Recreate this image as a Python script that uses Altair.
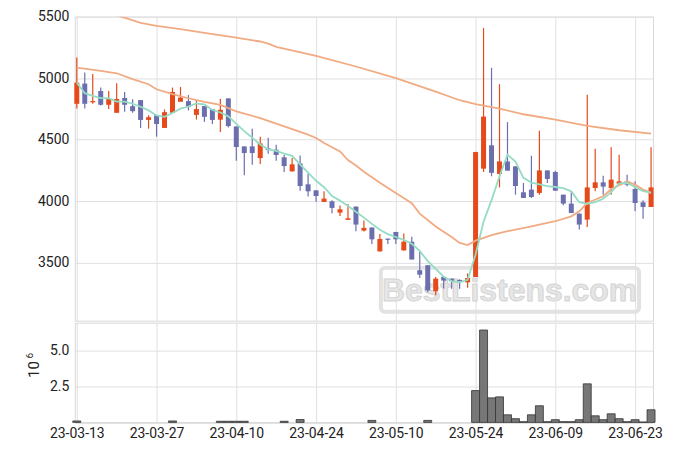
import altair as alt
import pandas as pd

# ---------------- data ----------------
holidays = ["2023-05-01", "2023-05-05", "2023-05-29", "2023-06-06"]
dates = pd.bdate_range("2023-03-13", "2023-06-27", freq="C", holidays=holidays)
date_labels = [d.strftime("%y-%m-%d") for d in dates]

opens = [4792, 4956, 4806, 4896, 4784, 4719, 4839, 4773, 4822, 4661,
         4699, 4596, 4719, 4809, 4814, 4702, 4773, 4749, 4663, 4836,
         4608, 4446, 4446, 4351, 4430, 4419, 4357, 4243, 4308, 4138,
         4089, 3995, 4000, 3908, 3849, 3957, 3762, 3787, 3593, 3697,
         3751, 3601, 3672, 3440, 3481, 3270, 3386, 3372, 3361, 3342,
         3385, 4265, 4455, 4222, 4324, 4284, 4073, 4095, 4068, 4251,
         4238, 4054, 3981, 3900, 3851, 4108, 4154, 4108, 4143, 4162,
         4100, 3992, 3954]
highs = [5169, 5046, 5033, 4924, 4896, 4959, 4888, 4828, 4822, 4699,
         4699, 4746, 4924, 4929, 4863, 4820, 4773, 4749, 4830, 4836,
         4608, 4446, 4589, 4524, 4516, 4459, 4378, 4351, 4373, 4224,
         4089, 4081, 4008, 3965, 3978, 3957, 3844, 3787, 3735, 3697,
         3751, 3738, 3713, 3590, 3481, 3385, 3386, 3372, 3366, 3413,
         4402, 5407, 5085, 4951, 4643, 4284, 4149, 4370, 4573, 4251,
         4249, 4054, 4081, 3900, 4865, 4427, 4208, 4438, 4378, 4216,
         4162, 4008, 4438]
lows = [4754, 4754, 4792, 4779, 4749, 4719, 4727, 4719, 4596, 4590,
        4525, 4596, 4719, 4809, 4738, 4664, 4645, 4628, 4563, 4600,
        4330, 4211, 4297, 4303, 4386, 4330, 4238, 4243, 4086, 4038,
        3997, 3995, 3903, 3881, 3849, 3757, 3754, 3653, 3593, 3653,
        3653, 3601, 3527, 3377, 3262, 3237, 3291, 3290, 3290, 3298,
        3385, 4238, 4203, 4113, 4249, 4054, 4027, 4027, 4054, 4149,
        4086, 3968, 3905, 3770, 3792, 4081, 4054, 4054, 4135, 4122,
        3919, 3859, 3954]
closes = [4964, 4792, 4814, 4784, 4831, 4831, 4784, 4732, 4661, 4683,
          4628, 4724, 4888, 4842, 4768, 4749, 4686, 4661, 4743, 4611,
          4441, 4392, 4392, 4470, 4416, 4376, 4286, 4300, 4124, 4081,
          4043, 4022, 3946, 3935, 3862, 3811, 3784, 3691, 3694, 3689,
          3691, 3672, 3527, 3404, 3276, 3372, 3356, 3350, 3353, 3377,
          4400, 4688, 4231, 4324, 4249, 4124, 4027, 4035, 4251, 4181,
          4086, 3981, 3905, 3811, 4113, 4154, 4119, 4176, 4162, 4135,
          3986, 3954, 4113]
# volume in millions of shares
volume_m = [0.10, 0, 0, 0, 0, 0, 0, 0, 0, 0,
            0, 0, 0.10, 0, 0, 0, 0, 0, 0.08, 0.08,
            0.08, 0.08, 0, 0, 0, 0, 0.08, 0, 0.20, 0,
            0, 0, 0, 0, 0, 0, 0, 0.14, 0, 0,
            0, 0, 0, 0, 0.14, 0, 0, 0, 0, 0,
            2.22, 6.44, 1.71, 1.78, 0.53, 0.26, 0.05, 0.53, 1.16, 0.05,
            0.19, 0.05, 0.05, 0.19, 2.69, 0.46, 0.19, 0.60, 0.26, 0.05,
            0.19, 0.03, 0.88]

# moving-average lines (trading-day index, value)
ma20_idx = [0, 3, 5, 7, 9, 10, 12, 14, 16, 18, 20, 23, 26, 29, 30, 31, 33, 34,
            35, 36, 38, 40, 42, 43, 45, 47, 48, 49, 50, 52, 54, 57, 60, 62, 63,
            64, 66, 67, 69, 70, 71, 72]
ma20_val = [5086, 5059, 5040, 4992, 4951, 4910, 4870, 4837, 4807, 4783, 4730,
            4676, 4608, 4541, 4514, 4473, 4405, 4335, 4290, 4240, 4150, 4068,
            3985, 3900, 3795, 3710, 3662, 3645, 3680, 3725, 3757, 3797, 3838,
            3878, 3919, 3986, 4041, 4100, 4160, 4135, 4095, 4068]
ma60_idx = [0, 3, 5, 8, 10, 13, 16, 20, 23, 24, 25, 30, 35, 40, 45, 48, 50, 53,
            56, 60, 64, 68, 72]
ma60_val = [5600, 5545, 5512, 5450, 5425, 5398, 5368, 5330, 5298, 5281, 5255,
            5181, 5095, 5000, 4891, 4821, 4789, 4753, 4707, 4663, 4612, 4577,
            4550]

RED = "#e6491a"
BLUE = "#6b6fae"
GREEN = "#95dcc4"
ORANGE = "#f1ab82"
FONT = "Roboto"

n = len(closes)
df = pd.DataFrame({
    "idx": list(range(n)),
    "date": date_labels[:n],
    "open": opens, "high": highs, "low": lows, "close": closes,
    "vol": volume_m,
})
df["dir"] = ["up" if c >= o else "down" for o, c in zip(opens, closes)]
ma20_df = pd.DataFrame({"idx": ma20_idx, "ma": ma20_val})
ma60_df = pd.DataFrame({"idx": ma60_idx, "ma": ma60_val})

tick_vals = list(range(0, n, 10))
label_expr = "[" + ",".join("'%s'" % s for s in date_labels[:n]) + "][datum.value]"

xscale = alt.Scale(domain=[-0.25, n - 1 + 0.25], nice=False, zero=False, padding=0)
yscale = alt.Scale(domain=[3030, 5500], nice=False, zero=False, padding=0)
color = alt.Color("dir:N", scale=alt.Scale(domain=["up", "down"], range=[RED, BLUE]), legend=None)

x_main = alt.X("idx:Q", scale=xscale,
               axis=alt.Axis(values=tick_vals, labels=False, ticks=False, domain=False,
                             title=None, grid=True))
y_main_axis = alt.Axis(values=[3500, 4000, 4500, 5000, 5500], format="d", ticks=False,
                       domain=False, labelPadding=6, title=None, grid=True)

base = alt.Chart(df)

wicks = base.mark_rule(strokeWidth=1.2).encode(
    x=x_main,
    y=alt.Y("low:Q", scale=yscale, axis=y_main_axis),
    y2="high:Q",
    color=color,
)
bodies = base.transform_calculate(
    bt="max(datum.open, datum.close)",
    bb0="min(datum.open, datum.close)",
).transform_calculate(
    bb="datum.bt - datum.bb0 < 10 ? datum.bt - 10 : datum.bb0"
).mark_bar(size=5).encode(
    x=alt.X("idx:Q", scale=xscale),
    y=alt.Y("bt:Q", scale=yscale),
    y2="bb:Q",
    color=color,
)
ma5_line = base.transform_window(
    ma5="mean(close)", frame=[-4, 0], sort=[alt.SortField("idx")]
).mark_line(color=GREEN, strokeWidth=1.8, clip=True).encode(
    x=alt.X("idx:Q", scale=xscale),
    y=alt.Y("ma5:Q", scale=yscale),
)
ma20_line = alt.Chart(ma20_df).mark_line(color=ORANGE, strokeWidth=1.8, clip=True).encode(
    x=alt.X("idx:Q", scale=xscale), y=alt.Y("ma:Q", scale=yscale))
ma60_line = alt.Chart(ma60_df).mark_line(color=ORANGE, strokeWidth=1.8, clip=True).encode(
    x=alt.X("idx:Q", scale=xscale), y=alt.Y("ma:Q", scale=yscale))

wm_data = alt.Data(values=[{"t": "BestListens.com"}])
wm_box = alt.Chart(wm_data).mark_rect(
    fill="white", fillOpacity=0, stroke="#e2e2e2", strokeWidth=4, cornerRadius=4
).encode(x=alt.value(307), x2=alt.value(566), y=alt.value(252), y2=alt.value(296))
wm_text = alt.Chart(wm_data).mark_text(
    font="Liberation Sans", fontWeight="bold", fontSize=32, fill="#e6e6e6",
    stroke="#d4d4d4", strokeWidth=1, align="center", baseline="middle"
).encode(x=alt.value(436), y=alt.value(275), text="t:N")

main = alt.layer(wm_box, wm_text, wicks, bodies, ma20_line, ma60_line, ma5_line).properties(
    width=580, height=305)

vol_bars = base.transform_filter("datum.vol > 0").mark_bar(
    size=8, fill="#777777", stroke="#333333", strokeWidth=0.8
).encode(
    x=alt.X("idx:Q", scale=xscale,
            axis=alt.Axis(values=tick_vals, labelExpr=label_expr, ticks=False, grid=True,
                          title=None, labelPadding=4, domainColor="#d0d0d0")),
    y=alt.Y("vol:Q", scale=alt.Scale(domain=[0, 6.95], nice=False, padding=0),
            axis=alt.Axis(values=[2.5, 5.0], format=".1f", ticks=False, domain=False,
                          title=None, labelPadding=6, grid=True)),
)
# axis multiplier label "10^6"
exp_data = alt.Data(values=[{"a": "10", "b": "6"}])
exp_base = alt.Chart(exp_data).mark_text(
    font=FONT, fontSize=15, angle=270, color="#222222", align="center", baseline="middle"
).encode(x=alt.value(-41), y=alt.value(47), text="a:N")
exp_sup = alt.Chart(exp_data).mark_text(
    font=FONT, fontSize=10, angle=270, color="#222222", align="center", baseline="middle"
).encode(x=alt.value(-45), y=alt.value(33), text="b:N")

vol_chart = alt.layer(vol_bars, exp_base, exp_sup).properties(width=580, height=100)

chart = alt.vconcat(main, vol_chart, spacing=0).properties(
    padding={"left": 16, "top": 0, "right": 4, "bottom": 0}
).configure_view(stroke="#d8d8d8").configure_axis(
    labelFont=FONT, labelFontSize=14, labelColor="#222222",
    titleFont=FONT, titleFontSize=14, titleColor="#222222",
    gridColor="#e0e0e0",
)

chart.save("out.html", embed_options={"renderer": "svg", "actions": False})
